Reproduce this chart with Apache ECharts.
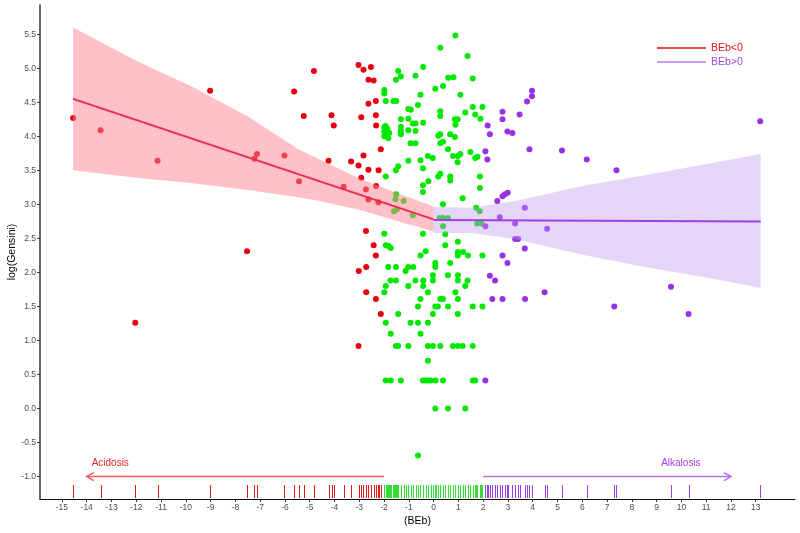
<!DOCTYPE html>
<html>
<head>
<meta charset="utf-8">
<script src="https://cdn.jsdelivr.net/npm/echarts@6/dist/echarts.min.js"></script>
<style>
  html, body { margin: 0; padding: 0; background: #fff; }
  #chart { width: 800px; height: 533px; }
</style>
</head>
<body>
<div id="chart"></div>
<script>
  // axis ticks
  const xTicks = [-15, -14, -13, -12, -11, -10, -9, -8, -7, -6, -5, -4, -3, -2, -1, 0, 1, 2, 3, 4, 5, 6, 7, 8, 9, 10, 11, 12, 13];
  const yTicks = [-1, -0.5, 0, 0.5, 1, 1.5, 2, 2.5, 3, 3.5, 4, 4.5, 5, 5.5];
  const xRange = [-15.885, 14.585];
  const yRange = [-1.33, 5.93];

  // points: BEb < -2 (red), -2..2 (green), > 2 (purple)
  const acidPts = [
    [-14.55, 4.27], [-13.44, 4.09], [-12.04, 1.26], [-11.14, 3.64], [-9.02, 4.67], [-7.53, 2.31],
    [-7.23, 3.67], [-7.13, 3.74], [-6.02, 3.72], [-5.63, 4.66], [-5.43, 3.34], [-5.24, 4.30],
    [-4.83, 4.96], [-4.24, 3.64], [-4.12, 4.31], [-4.03, 4.16], [-3.63, 3.26], [-3.33, 3.63],
    [-3.03, 5.05], [-3.03, 3.57], [-2.92, 4.28], [-2.92, 3.39], [-2.83, 4.98], [-2.83, 3.72],
    [-2.73, 3.22], [-2.63, 4.83], [-2.63, 4.48], [-2.63, 3.51], [-2.63, 3.07], [-2.53, 5.02],
    [-2.42, 4.82], [-2.33, 4.52], [-2.33, 4.31], [-2.32, 4.16], [-2.32, 3.27], [-2.23, 3.03],
    [-2.22, 3.50], [-2.13, 3.81], [-2.73, 2.61], [-2.42, 2.40], [-2.33, 2.25], [-2.72, 2.08],
    [-3.02, 2.02], [-2.72, 1.71], [-2.33, 1.61], [-2.13, 1.39], [-3.03, 0.92]
  ];
  const normalPts = [
    [0.88, 5.48], [0.27, 5.30], [1.37, 5.18], [-1.43, 4.96], [-0.42, 5.02], [-1.52, 4.83], [-1.32, 4.88],
    [-0.73, 4.89], [0.59, 4.86], [0.80, 4.87], [1.58, 4.85], [0.07, 4.70], [0.38, 4.74], [-1.99, 4.68],
    [-1.99, 4.63], [-0.53, 4.61], [1.08, 4.61], [-1.93, 4.52], [-1.62, 4.52], [-1.51, 4.52], [-0.63, 4.46],
    [-1.02, 4.40], [-0.92, 4.39], [0.27, 4.37], [0.27, 4.30], [1.28, 4.35], [1.58, 4.43], [1.97, 4.43],
    [1.68, 4.32], [1.89, 4.26], [-1.32, 4.25], [-1.02, 4.26], [0.86, 4.25], [0.97, 4.25], [0.88, 4.17],
    [-1.94, 4.15], [-1.99, 4.13], [-1.87, 4.11], [-1.99, 4.07], [-1.79, 4.05], [-1.99, 4.00], [-1.83, 3.97],
    [-1.32, 4.14], [-1.32, 4.08], [-1.32, 4.03], [-1.02, 4.09], [-0.84, 4.19], [-0.73, 4.19], [-0.73, 4.08],
    [-0.42, 4.20], [0.19, 4.01], [0.27, 4.03], [0.67, 4.03], [0.86, 3.99], [-0.93, 3.90], [-0.73, 3.90],
    [0.27, 3.90], [0.38, 3.92], [0.58, 3.81], [-0.23, 3.71], [-0.03, 3.68], [0.78, 3.71], [0.98, 3.71],
    [1.08, 3.74], [1.48, 3.77], [1.68, 3.68], [1.77, 3.70], [0.97, 3.62], [-1.02, 3.64], [-0.53, 3.65],
    [-0.43, 3.53], [-1.43, 3.56], [-1.52, 3.50], [-1.93, 3.41], [0.19, 3.41], [0.27, 3.45], [0.67, 3.41],
    [0.67, 3.35], [1.87, 3.41], [-0.21, 3.34], [-0.43, 3.28], [-0.43, 3.18], [1.87, 3.24], [1.17, 3.09],
    [0.38, 3.00], [-1.51, 3.15], [-1.54, 3.07], [-1.21, 3.05], [-1.60, 2.90], [-1.49, 2.93], [-0.84, 2.84],
    [0.24, 2.80], [0.38, 2.80], [0.58, 2.80], [0.38, 2.68], [1.72, 2.95], [1.86, 2.90], [1.76, 2.72],
    [1.93, 2.72], [0.47, 2.56], [-0.43, 2.57], [-1.99, 2.57], [-1.93, 2.40], [-1.82, 2.39], [-1.73, 2.36],
    [0.47, 2.40], [0.98, 2.45], [-0.32, 2.31], [-0.53, 2.25], [0.98, 2.30], [1.19, 2.30], [0.98, 2.25],
    [1.39, 2.25], [1.97, 2.25], [-1.83, 2.08], [-1.52, 2.08], [-1.02, 2.08], [-0.82, 2.08], [-1.13, 2.02],
    [0.07, 2.14], [0.07, 2.08], [0.67, 2.14], [-0.03, 1.96], [0.58, 1.96], [0.98, 1.96], [-1.74, 1.88],
    [-1.52, 1.88], [-0.73, 1.88], [-0.42, 1.88], [-0.03, 1.88], [0.98, 1.88], [1.37, 1.88], [-1.93, 1.80],
    [-1.02, 1.80], [-0.42, 1.80], [1.28, 1.80], [-1.99, 1.71], [-0.23, 1.71], [0.88, 1.71], [-0.53, 1.61],
    [0.27, 1.61], [0.38, 1.61], [0.98, 1.61], [-0.63, 1.50], [0.07, 1.50], [0.17, 1.50], [0.58, 1.50],
    [1.58, 1.50], [1.97, 1.50], [-1.43, 1.39], [-0.03, 1.39], [0.98, 1.39], [-1.93, 1.26], [-0.93, 1.26],
    [-0.63, 1.26], [-0.23, 1.26], [-1.73, 1.10], [-0.53, 1.10], [-1.52, 0.92], [-1.43, 0.92], [-1.02, 0.92],
    [-0.23, 0.92], [-0.03, 0.92], [0.27, 0.92], [0.78, 0.92], [0.98, 0.92], [1.17, 0.92], [1.58, 0.92],
    [-0.23, 0.70], [-1.93, 0.41], [-1.73, 0.41], [-1.32, 0.41], [-0.43, 0.41], [-0.32, 0.41], [-0.23, 0.41],
    [-0.12, 0.41], [0.08, 0.41], [0.38, 0.41], [1.58, 0.41], [1.68, 0.41], [0.07, 0.00], [0.58, 0.00],
    [1.28, 0.00], [-0.63, -0.69]
  ];
  const alkPts = [
    [2.09, 3.78], [2.17, 3.66], [2.18, 4.16], [2.27, 4.03], [2.98, 4.07], [3.18, 4.05], [2.78, 4.36],
    [2.78, 4.25], [3.47, 4.32], [3.77, 4.51], [3.97, 4.67], [3.97, 4.59], [3.87, 3.81], [5.18, 3.79],
    [6.18, 3.66], [7.38, 3.50], [13.18, 4.22], [2.57, 3.05], [2.78, 3.12], [2.88, 3.15], [2.99, 3.17],
    [3.68, 2.95], [2.67, 2.81], [2.09, 2.68], [3.29, 2.72], [4.58, 2.64], [3.29, 2.49], [3.41, 2.49],
    [3.68, 2.35], [2.78, 2.25], [2.98, 2.14], [2.27, 1.95], [2.48, 1.88], [4.48, 1.71], [2.37, 1.61],
    [2.78, 1.61], [3.69, 1.61], [2.09, 0.41], [7.29, 1.50], [9.58, 1.79], [10.29, 1.39]
  ];

  // fitted lines and their confidence bands
  const negFit = [[-14.55, 4.55], [0, 2.78]];
  const posFit = [[0, 2.77], [13.2, 2.75]];
  const negBandX = [-14.55, -12, -9.7, -7.5, -5.4, -4.6, -3, -1.5, 0];
  const negBandLo = [3.50, 3.39, 3.31, 3.21, 3.10, 3.05, 2.92, 2.76, 2.60];
  const negBandHi = [5.60, 5.11, 4.72, 4.29, 3.80, 3.66, 3.38, 3.17, 2.97];
  const posBandX = [0, 1.5, 3.3, 6, 8.7, 11.4, 13.2];
  const posBandLo = [2.58, 2.58, 2.49, 2.26, 2.07, 1.90, 1.77];
  const posBandHi = [2.96, 2.95, 3.05, 3.27, 3.44, 3.62, 3.74];

  // annotations
  const arrowStart = [-2, 2];
  const arrowEnd = [-14, 12];
  const arrowY = -1;
  const annoText = ['Acidosis', 'Alkalosis'];
  const annoX = [-13.05, 9.98];
  const annoY = -0.8;

  const FONT = "'Liberation Sans', Arial, sans-serif";
  const RED = '#e60010';
  const GREEN = '#00e800';
  const PURPLE = '#9830e4';

  const chart = echarts.init(document.getElementById('chart'));

  const bandSeries = (xs, lo, hi, fill) => ({
    type: 'custom',
    data: [[xs[0], lo[0]]],
    encode: { x: 0, y: 1 },
    z: 5,
    silent: true,
    renderItem: (params, api) => {
      const pts = [];
      xs.forEach((x, i) => pts.push(api.coord([x, hi[i]])));
      for (let i = xs.length - 1; i >= 0; i--) pts.push(api.coord([xs[i], lo[i]]));
      return { type: 'polygon', shape: { points: pts }, style: { fill: fill } };
    },
  });

  const rugSeries = (pts, color) => ({
    type: 'custom',
    data: pts.map((p) => [p[0], yRange[0]]),
    encode: { x: 0, y: 1 },
    z: 3,
    silent: true,
    clip: false,
    renderItem: (params, api) => {
      const p = api.coord([api.value(0), api.value(1)]);
      return {
        type: 'line',
        shape: { x1: Math.round(p[0]) + 0.5, y1: p[1] - 1, x2: Math.round(p[0]) + 0.5, y2: p[1] - 14 },
        style: { stroke: color, lineWidth: 1 },
      };
    },
  });

  const scatterSeries = (pts, color) => ({
    type: 'scatter',
    data: pts,
    symbolSize: 6,
    itemStyle: { color: color, opacity: 1 },
    z: 2,
    silent: true,
  });

  const arrowColors = ['#f06060', '#b070f0'];
  const textColors = ['#e52424', '#a040e0'];

  const option = {
    animation: false,
    grid: { left: 40, right: 5, top: 5, bottom: 34, outerBoundsMode: 'none' },
    legend: {
      orient: 'vertical',
      left: 657,
      top: 42,
      padding: 0,
      itemWidth: 49,
      itemHeight: 1.5,
      itemGap: 2,
      selectedMode: false,
      textStyle: { fontFamily: FONT, fontSize: 10.5, lineHeight: 12 },
      data: [
        { name: 'BEb<0', icon: 'rect', itemStyle: { color: '#dd1111' }, textStyle: { color: '#e01a1a' } },
        { name: 'BEb>0', icon: 'rect', itemStyle: { color: '#b878f0' }, textStyle: { color: '#a048e0' } },
      ],
    },
    xAxis: {
      type: 'value',
      min: xRange[0],
      max: xRange[1],
      name: '(BEb)',
      nameLocation: 'middle',
      nameGap: 17,
      nameMoveOverlap: false,
      nameTextStyle: { fontFamily: FONT, fontSize: 10.5, color: '#000' },
      axisLine: { onZero: false, lineStyle: { color: '#111', width: 1 } },
      axisTick: { length: 3, lineStyle: { color: '#333' }, customValues: xTicks },
      axisLabel: { customValues: xTicks, fontFamily: FONT, fontSize: 8.5, color: '#4d4d4d', margin: 4 },
      splitLine: { show: false },
    },
    yAxis: {
      type: 'value',
      min: yRange[0],
      max: yRange[1],
      name: 'log(Gensini)',
      nameLocation: 'middle',
      nameGap: 22,
      nameMoveOverlap: false,
      nameTextStyle: { fontFamily: FONT, fontSize: 10.5, color: '#000' },
      axisLine: { show: true, onZero: false, lineStyle: { color: '#333', width: 1.5 } },
      axisTick: { show: true, length: 3, lineStyle: { color: '#333' }, customValues: yTicks },
      axisLabel: {
        customValues: yTicks,
        fontFamily: FONT,
        fontSize: 8.5,
        color: '#4d4d4d',
        margin: 4,
        formatter: (v) => v.toFixed(1),
      },
      splitLine: { show: false },
    },
    series: [
      scatterSeries(acidPts, RED),
      scatterSeries(normalPts, GREEN),
      scatterSeries(alkPts, PURPLE),
      bandSeries(negBandX, negBandLo, negBandHi, 'rgba(255,130,145,0.5)'),
      bandSeries(posBandX, posBandLo, posBandHi, 'rgba(190,150,240,0.4)'),
      {
        name: 'BEb<0',
        type: 'line',
        data: negFit,
        symbol: 'none',
        z: 6,
        lineStyle: { color: '#ec2a52', width: 2 },
        itemStyle: { color: '#dd1111' },
      },
      {
        name: 'BEb>0',
        type: 'line',
        data: posFit,
        symbol: 'none',
        z: 6,
        lineStyle: { color: '#a040e0', width: 2 },
        itemStyle: { color: '#b878f0' },
      },
      rugSeries(acidPts, '#e01a1a'),
      rugSeries(normalPts, '#33dd33'),
      rugSeries(alkPts, '#9a40e0'),
      {
        // Acidosis / Alkalosis arrows
        type: 'custom',
        data: arrowStart.map((s, i) => [s, arrowY, arrowEnd[i], i]),
        encode: { x: [0, 2], y: 1 },
        z: 7,
        silent: true,
        renderItem: (params, api) => {
          const i = api.value(3);
          const a = api.coord([api.value(0), api.value(1)]);
          const b = api.coord([api.value(2), api.value(1)]);
          const dir = b[0] > a[0] ? 1 : -1;
          const st = { stroke: arrowColors[i], lineWidth: 1.5, fill: null };
          return {
            type: 'group',
            children: [
              { type: 'line', shape: { x1: a[0], y1: a[1], x2: b[0], y2: b[1] }, style: st },
              {
                type: 'polyline',
                shape: { points: [[b[0] - dir * 7, b[1] - 4], [b[0], b[1]], [b[0] - dir * 7, b[1] + 4]] },
                style: st,
              },
            ],
          };
        },
      },
      {
        type: 'custom',
        data: annoX.map((x, i) => [x, annoY, i]),
        encode: { x: 0, y: 1 },
        z: 7,
        silent: true,
        renderItem: (params, api) => {
          const i = api.value(2);
          const p = api.coord([api.value(0), api.value(1)]);
          return {
            type: 'text',
            x: p[0],
            y: p[1],
            style: {
              text: annoText[i],
              fill: textColors[i],
              fontSize: 10,
              fontFamily: FONT,
              align: 'center',
              verticalAlign: 'middle',
            },
          };
        },
      },
    ],
  };

  chart.setOption(option);
</script>
</body>
</html>
